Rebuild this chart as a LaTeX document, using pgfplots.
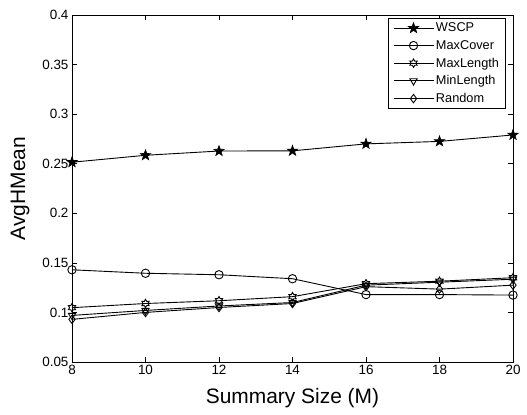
\documentclass[border=0pt]{standalone}
\usepackage{fontspec}
\setmainfont{Liberation Sans}
\usepackage{pgfplots}
\pgfplotsset{compat=1.18}
\usetikzlibrary{plotmarks}

% six-pointed star (matlab 'h')
\pgfdeclareplotmark{hexagram}{%
  \pgfpathmoveto{\pgfpointpolar{90}{\pgfplotmarksize}}%
  \pgfpathlineto{\pgfpointpolar{120}{0.577\pgfplotmarksize}}%
  \pgfpathlineto{\pgfpointpolar{150}{\pgfplotmarksize}}%
  \pgfpathlineto{\pgfpointpolar{180}{0.577\pgfplotmarksize}}%
  \pgfpathlineto{\pgfpointpolar{210}{\pgfplotmarksize}}%
  \pgfpathlineto{\pgfpointpolar{240}{0.577\pgfplotmarksize}}%
  \pgfpathlineto{\pgfpointpolar{270}{\pgfplotmarksize}}%
  \pgfpathlineto{\pgfpointpolar{300}{0.577\pgfplotmarksize}}%
  \pgfpathlineto{\pgfpointpolar{330}{\pgfplotmarksize}}%
  \pgfpathlineto{\pgfpointpolar{0}{0.577\pgfplotmarksize}}%
  \pgfpathlineto{\pgfpointpolar{30}{\pgfplotmarksize}}%
  \pgfpathlineto{\pgfpointpolar{60}{0.577\pgfplotmarksize}}%
  \pgfpathclose
  \pgfusepathqstroke
}
% filled five-pointed star (matlab 'p')
\pgfdeclareplotmark{pentagram}{%
  \pgfpathmoveto{\pgfpointpolar{90}{\pgfplotmarksize}}%
  \pgfpathlineto{\pgfpointpolar{126}{0.4\pgfplotmarksize}}%
  \pgfpathlineto{\pgfpointpolar{162}{\pgfplotmarksize}}%
  \pgfpathlineto{\pgfpointpolar{198}{0.4\pgfplotmarksize}}%
  \pgfpathlineto{\pgfpointpolar{234}{\pgfplotmarksize}}%
  \pgfpathlineto{\pgfpointpolar{270}{0.4\pgfplotmarksize}}%
  \pgfpathlineto{\pgfpointpolar{306}{\pgfplotmarksize}}%
  \pgfpathlineto{\pgfpointpolar{342}{0.4\pgfplotmarksize}}%
  \pgfpathlineto{\pgfpointpolar{18}{\pgfplotmarksize}}%
  \pgfpathlineto{\pgfpointpolar{54}{0.4\pgfplotmarksize}}%
  \pgfpathclose
  \pgfusepathqfillstroke
}

\begin{document}
\begin{tikzpicture}
\useasboundingbox (-72bp,-53bp) rectangle (455bp,362bp);
\begin{axis}[
    scale only axis,
    width=441bp, height=347bp,
    xmin=8, xmax=20, ymin=0.05, ymax=0.4,
    xtick={8,10,...,20},
    ytick={0.05,0.1,...,0.4},
    yticklabel style={/pgf/number format/fixed, /pgf/number format/precision=2},
    /pgf/number format/assume math mode=true,
    tick label style={font=\fontsize{13.5}{15}\selectfont},
    label style={font=\fontsize{21}{24}\selectfont},
    xlabel={Summary Size (M)},
    ylabel={AvgHMean},
    xlabel style={yshift=-6bp},
    ylabel style={yshift=6bp},
    axis line style={line width=0.9pt},
    tick style={black, line width=0.6pt},
    major tick length=5bp,
    every axis plot/.append style={black, line width=0.9pt, mark size=4.2bp},
    legend style={at={(0.984,0.991)}, anchor=north east,
        font=\fontsize{12.8}{14}\selectfont, draw=black, line width=0.8pt,
        row sep=3bp, inner ysep=2.5bp, inner xsep=4.5bp},
    legend cell align=left,
    legend image code/.code={\draw[mark repeat=2,mark phase=2] plot coordinates {(0bp,0bp)(20bp,0bp)(40bp,0bp)};},
]
\addplot[mark=pentagram, mark options={fill=black, solid, line width=0.6pt}, mark size=5.5bp]
  coordinates {(8,0.2515) (10,0.2585) (12,0.2628) (14,0.263) (16,0.270) (18,0.2725) (20,0.279)};
\addplot[mark=o, mark options={solid}]
  coordinates {(8,0.143) (10,0.1395) (12,0.138) (14,0.134) (16,0.118) (18,0.118) (20,0.1175)};
\addplot[mark=hexagram, mark options={solid}]
  coordinates {(8,0.1048) (10,0.109) (12,0.1118) (14,0.1159) (16,0.129) (18,0.1315) (20,0.135)};
\addplot[mark=triangle, mark options={solid, rotate=180}]
  coordinates {(8,0.097) (10,0.102) (12,0.1065) (14,0.110) (16,0.1275) (18,0.1305) (20,0.1335)};
\addplot[mark=diamond, mark options={solid}]
  coordinates {(8,0.093) (10,0.100) (12,0.105) (14,0.109) (16,0.126) (18,0.1235) (20,0.1275)};
\legend{WSCP,MaxCover,MaxLength,MinLength,Random}
\end{axis}
\end{tikzpicture}
\end{document}
